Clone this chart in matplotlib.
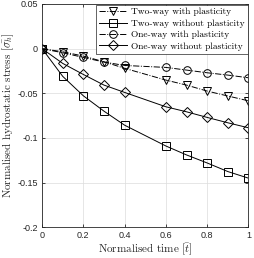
import matplotlib
matplotlib.use("Agg")
import matplotlib.pyplot as plt

plt.rcParams["mathtext.fontset"] = "cm"
plt.rcParams["axes.unicode_minus"] = False
plt.rcParams["axes.formatter.use_mathtext"] = True

t = [0, 0.1, 0.2, 0.3, 0.4, 0.6, 0.7, 0.8, 0.9, 1.0]
two_way_plastic = [0, -0.0035, -0.0083, -0.0147, -0.022, -0.0352, -0.0408, -0.0475, -0.053, -0.0584]
two_way_elastic = [0, -0.031, -0.0528, -0.070, -0.0857, -0.109, -0.119, -0.128, -0.1376, -0.145]
one_way_plastic = [0, -0.0046, -0.0098, -0.015, -0.0188, -0.021, -0.024, -0.027, -0.0296, -0.0326]
one_way_elastic = [0, -0.0165, -0.0289, -0.0408, -0.049, -0.0651, -0.0707, -0.077, -0.083, -0.0886]

series = [
    ("Two-way with plasticity", two_way_plastic, "v", "-."),
    ("Two-way without plasticity", two_way_elastic, "s", "-"),
    ("One-way with plasticity", one_way_plastic, "o", "-."),
    ("One-way without plasticity", one_way_elastic, "D", "-"),
]

xticks = [0, 0.2, 0.4, 0.6, 0.8, 1]
xtick_labels = ["0", "0.2", "0.4", "0.6", "0.8", "1"]
yticks = [-0.2, -0.15, -0.1, -0.05, 0, 0.05]
ytick_labels = ["-0.2", "-0.15", "-0.1", "-0.05", "0", "0.05"]

fig = plt.figure(figsize=(2.55, 2.58), dpi=100)
ax = fig.add_axes([0.165, 0.119, 0.8095, 0.8655])

for label, vals, mk, ls in series:
    ms = 5.0 if mk == "D" else 5.5
    ax.plot(t, vals, color="black", linestyle=ls, linewidth=0.7, marker=mk,
            markersize=ms, markerfacecolor="none", markeredgecolor="black",
            markeredgewidth=0.7, label=label)

ax.set_xlim(0, 1)
ax.set_ylim(-0.2, 0.05)
ax.set_xticks(xticks)
ax.set_xticklabels(xtick_labels, family="Liberation Sans", fontsize=6.5, color="#262626")
ax.set_yticks(yticks)
ax.set_yticklabels(ytick_labels, family="Liberation Sans", fontsize=6.5, color="#262626")
ax.tick_params(direction="in", length=2, width=0.5, pad=3, top=True, right=True)
ax.grid(True, color="#dcdcdc", linewidth=0.5)
ax.set_axisbelow(True)
for s in ax.spines.values():
    s.set_linewidth(0.6)
    s.set_color("#262626")

ax.set_xlabel(r"Normalised time $[\bar{t}]$", family="cmr10", fontsize=8, labelpad=1,
              color="#262626")
ax.set_ylabel(r"Normalised hydrostatic stress $[\bar{\sigma_h}]$", family="cmr10",
              fontsize=8, labelpad=1, color="#262626")

leg = ax.legend(loc="upper right", prop={"family": "cmr10", "size": 6.8},
                frameon=True, fancybox=False, edgecolor="#262626", framealpha=1,
                borderaxespad=0.1, handlelength=3, labelspacing=0.3, borderpad=0.3,
                handletextpad=0.4)
leg.get_frame().set_linewidth(0.5)

fig.savefig("out.png", dpi=100)
